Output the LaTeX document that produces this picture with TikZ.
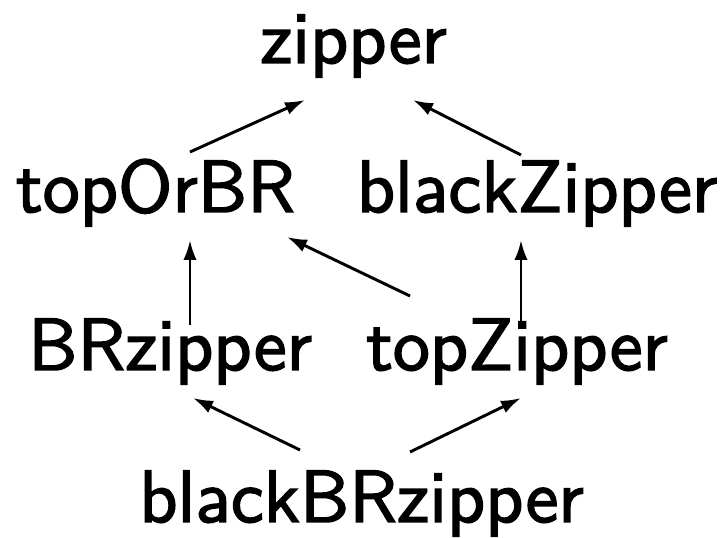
\documentclass[tikz,border=0pt]{standalone}
\usepackage{fontspec}
\usepackage{tikz}
\usetikzlibrary{arrows.meta}
\newfontfamily\diagfont[Extension=.otf,FakeBold=2]{lmsans10-regular}

\begin{document}
\begin{tikzpicture}[x=0.75pt,y=-0.75pt,
    every node/.style={font=\diagfont\fontsize{55.5}{60}\selectfont, inner sep=0pt, anchor=base},
    arr/.style={-{Latex[length=15pt,width=10pt]}, line width=2.2pt}]
    \useasboundingbox (0,0) rectangle (726,538);
    \node (zip) at (353.5,63) {zipper};
    \node (tob) at (155.5,212) {topOrBR};
    \node (bz) at (537,212) {blackZipper};
    \node (brz) at (170,370) {BRzipper};
    \node (tz) at (517,370) {topZipper};
    \node (bbrz) at (361.5,522) {blackBRzipper};
    \path [arr] ([shift={(34.5,-60)}]tob.base) edge ([shift={(-48.5,37)}]zip.base);
    \path [arr] ([shift={(-16,-57)}]bz.base) edge ([shift={(59.5,37)}]zip.base);
    \path [arr] ([shift={(20,-45)}]brz.base) edge ([shift={(34.5,28)}]tob.base);
    \path [arr] ([shift={(-107,-74)}]tz.base) edge ([shift={(131.5,25)}]tob.base);
    \path [arr] ([shift={(4,-45)}]tz.base) edge ([shift={(-16,28)}]bz.base);
    \path [arr] ([shift={(-61.5,-72)}]bbrz.base) edge ([shift={(23,28)}]brz.base);
    \path [arr] ([shift={(48.5,-70)}]bbrz.base) edge ([shift={(4,28)}]tz.base);
\end{tikzpicture}
\end{document}
